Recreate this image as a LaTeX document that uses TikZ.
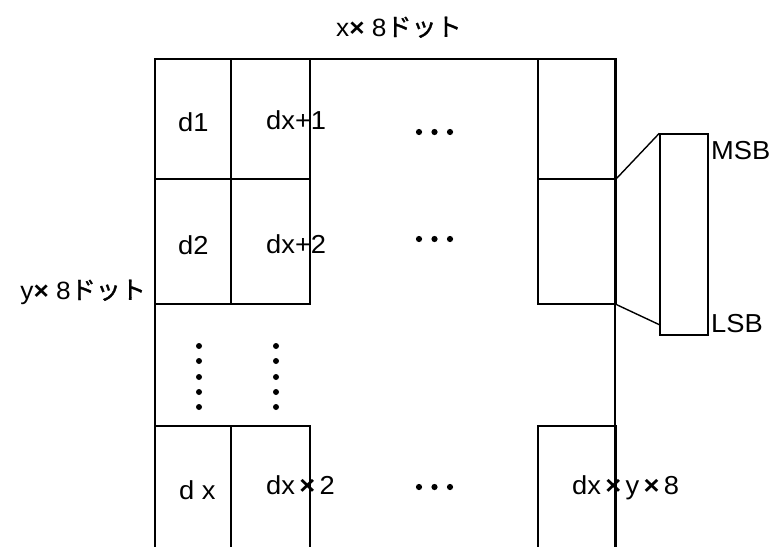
\documentclass[tikz,border=0pt]{standalone}
\usepackage{fontspec}
\setmainfont{Liberation Sans}[FakeStretch=1.05]
\newfontfamily\jpfont{Noto Sans CJK JP}[FakeBold=1.2]
\newcommand{\tms}{{\bfseries ×}}
\begin{document}
\begin{tikzpicture}[x=1pt,y=-1pt,
  ln/.style={line width=1.4pt},
  cell/.style={ln,draw,rectangle,inner sep=0pt},
  txt/.style={inner sep=0pt,anchor=base west,font=\fontsize{26}{30}\selectfont},
  lbl/.style={inner sep=0pt,anchor=base west,font=\fontsize{25}{29}\selectfont},
  dotc/.style={fill=black}]
\clip (0,0) rectangle (776,546);
\fill[white] (0,0) rectangle (776,546);
% outer frame
\coordinate (fbl) at (155,560);
\coordinate (ftl) at (155,59);
\coordinate (ftr) at (615,59);
\coordinate (fbr) at (615,560);
\draw[ln] (fbl) -- (ftl) -- (ftr) -- (fbr);
% cells
\node[cell,minimum width=76pt,minimum height=120pt] (c11) at (193,119) {};
\node[cell,minimum width=79pt,minimum height=120pt] (c12) at (270.5,119) {};
\node[cell,minimum width=76pt,minimum height=125pt] (c21) at (193,241.5) {};
\node[cell,minimum width=79pt,minimum height=125pt] (c22) at (270.5,241.5) {};
\node[cell,minimum width=76pt,minimum height=160pt] (c31) at (193,506) {};
\node[cell,minimum width=79pt,minimum height=160pt] (c32) at (270.5,506) {};
\node[cell,minimum width=78pt,minimum height=120pt] (r1) at (577,119) {};
\node[cell,minimum width=78pt,minimum height=125pt] (r2) at (577,241.5) {};
\node[cell,minimum width=78pt,minimum height=160pt] (r3) at (577,506) {};
% MSB/LSB box
\node[ln,draw,rectangle,inner sep=0pt,minimum width=48pt,minimum height=201pt] (bits) at (684,234.5) {};
\coordinate (lsbend) at (660,325);
\draw[ln] (r2.north east) -- (bits.north west);
\draw[ln] (r2.south east) -- (lsbend);
% labels
\node[lbl] (top) at (336,36) {x\tms{} 8{\jpfont ドット}};
\node[lbl,anchor=base east] (left) at (146,299) {y\tms{} 8{\jpfont ドット}};
\node[txt] (msb) at (711,159) {MSB};
\node[txt] (lsb) at (711,332) {LSB};
% cell texts
\node[txt] (t11) at (178,131) {d1};
\node[txt] (t12) at (266,129) {dx+1};
\node[txt] (t21) at (178,254) {d2};
\node[txt] (t22) at (266,253) {dx+2};
\node[txt] (t31) at (179,499) {d x};
\node[txt] (t32) at (266,494) {dx\,\tms\,2};
\node[txt] (t33) at (572,494) {dx\,\tms\,y\,\tms\,8};
% horizontal dots
\foreach \yy in {132,239,487}{
  \foreach \xx in {419,434.5,450}{
    \fill[dotc] (\xx,\yy) circle (3.1pt);
  }
}
% vertical dots
\foreach \xx in {199,276}{
  \foreach \yy in {346,361,377,392,407}{
    \fill[dotc] (\xx,\yy) circle (3pt);
  }
}
\end{tikzpicture}
\end{document}
